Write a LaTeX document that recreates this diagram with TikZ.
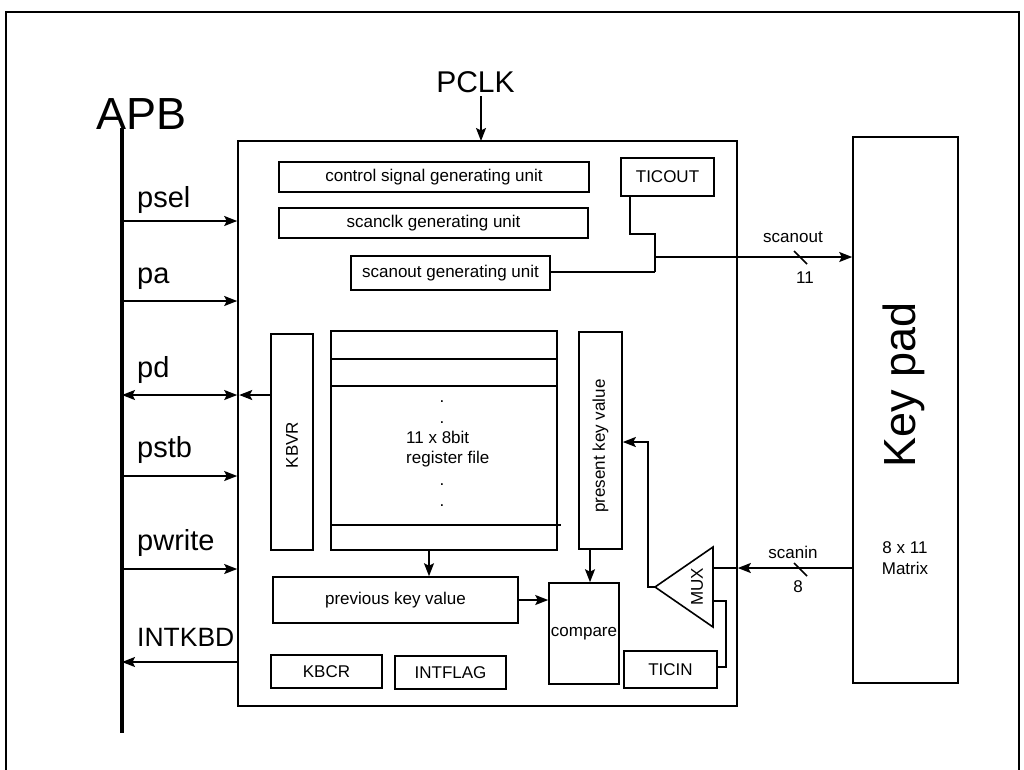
\documentclass[tikz,border=0pt]{standalone}
\usepackage{fontspec}
\setmainfont{Liberation Sans}
\usetikzlibrary{arrows.meta,calc}
\newcommand\fsz[1]{\fontsize{#1}{#1}\selectfont}
\begin{document}
\begin{tikzpicture}[x=1pt,y=-1pt,
  box/.style={draw, line width=1.6pt, inner sep=0pt},
  txt/.style={inner sep=0pt, font=\fsz{17}},
  sig/.style={inner sep=0pt, font=\fsz{29}, anchor=base west},
  wire/.style={line width=1.6pt},
  arr/.style={line width=1.6pt, -{Stealth[length=13pt,width=10pt,inset=2.5pt]}},
  darr/.style={line width=1.6pt, {Stealth[length=13pt,width=10pt,inset=2.5pt]}-{Stealth[length=13pt,width=10pt,inset=2.5pt]}}]
\useasboundingbox (0,0) rectangle (1024,769);
% outer frame
\draw[line width=2.4pt] (6,790) -- (6,12) -- (1019,12) -- (1019,790);

% APB bus
\node[inner sep=0pt, font=\fsz{45}, anchor=base west] (APB) at (96,129) {APB};
\coordinate (busT) at (122,128);
\coordinate (busB) at (122,733);
\draw[line width=4pt] (busT) -- (busB);

% main block
\node[box, minimum width=499pt, minimum height=565pt] (main) at (487.5,423.5) {};

% PCLK
\node[inner sep=0pt, font=\fsz{30}, anchor=base] (PCLK) at (475.5,92) {PCLK};
\coordinate (clkin) at (481,141);
\draw[arr] ($(PCLK.south -| clkin)+(0,4)$) -- (clkin);

% bus signals
\coordinate (bpsel) at (122,221);
\coordinate (bpa) at (122,301);
\coordinate (bpd) at (122,395);
\coordinate (bpstb) at (122,476);
\coordinate (bpwrite) at (122,569);
\coordinate (bint) at (122,662);
\node[sig] (Lpsel) at (137,207) {psel};
\node[sig] (Lpa) at (137,283) {pa};
\node[sig] (Lpd) at (137,377) {pd};
\node[sig] (Lpstb) at (137,457) {pstb};
\node[sig] (Lpwrite) at (137,550) {pwrite};
\node[sig, font=\fsz{26.5}] (Lint) at (137,646) {INTKBD};
\draw[arr] (bpsel) -- (bpsel -| main.west);
\draw[arr] (bpa) -- (bpa -| main.west);
\draw[darr] (bpd) -- (bpd -| main.west);
\draw[arr] (bpstb) -- (bpstb -| main.west);
\draw[arr] (bpwrite) -- (bpwrite -| main.west);
\draw[arr] (bint -| main.west) -- (bint);

% top units
\node[box, minimum width=310pt, minimum height=30pt] (ctrl) at (434,177) {};
\node[txt] (ctrlT) at (ctrl) {control signal generating unit};
\node[box, minimum width=309pt, minimum height=30pt] (sclk) at (433.5,223) {};
\node[txt] (sclkT) at (sclk) {scanclk generating unit};
\node[box, minimum width=199pt, minimum height=34pt] (sout) at (450.5,273) {};
\node[txt] (soutT) at (sout) {scanout generating unit};
\node[box, minimum width=93pt, minimum height=38pt] (ticout) at (667.5,177) {};
\node[txt] (ticoutT) at (ticout) {TICOUT};

% registers
\node[box, minimum width=42pt, minimum height=216pt] (kbvr) at (292,442) {};
\node[txt, rotate=90] (kbvrT) at (292,445) {KBVR};
\node[box, minimum width=226pt, minimum height=219pt] (reg) at (444,440.5) {};
\draw[wire] (reg.west |- 0,359) -- (reg.east |- 0,359);
\draw[wire] (reg.west |- 0,386) -- (reg.east |- 0,386);
\draw[wire] (reg.west |- 0,525) -- ($(reg.east |- 0,525)+(3,0)$);
\node[txt, anchor=base] (d1) at (442,402) {.};
\node[txt, anchor=base] (d2) at (442,423) {.};
\node[txt, anchor=base] (d3) at (442,485) {.};
\node[txt, anchor=base] (d4) at (442,506) {.};
\node[txt, anchor=base west] (regT1) at (406,443) {11 x 8bit};
\node[txt, anchor=base west] (regT2) at (406,463) {register file};
\node[box, minimum width=43pt, minimum height=217pt] (pres) at (600.5,440.5) {};
\node[txt, rotate=90] (presT) at (600.5,446) {present key value};

\node[box, minimum width=245pt, minimum height=46pt] (prev) at (395.5,600) {};
\node[txt] (prevT) at (prev) {previous key value};
\node[box, minimum width=70pt, minimum height=101pt] (cmp) at (584,633.5) {};
\node[txt] (cmpT) at (cmp) {compare};
\node[box, minimum width=111pt, minimum height=33pt] (kbcr) at (326.5,671.5) {};
\node[txt] (kbcrT) at (kbcr) {KBCR};
\node[box, minimum width=111pt, minimum height=33pt] (intf) at (450.5,672.5) {};
\node[txt] (intfT) at (intf) {INTFLAG};
\node[box, minimum width=93pt, minimum height=37pt] (ticin) at (670.5,669.5) {};
\node[txt] (ticinT) at (ticin) {TICIN};

% MUX
\coordinate (muxA) at (713,547);
\coordinate (muxB) at (713,627);
\coordinate (muxC) at (655,587);
\draw[wire, line join=miter] (muxA) -- (muxB) -- (muxC) -- cycle;
\node[txt, rotate=90] (muxT) at (697,587) {MUX};

% key pad
\node[box, minimum width=105pt, minimum height=546pt] (kp) at (905.5,410) {};
\node[inner sep=0pt, font=\fsz{45}, rotate=90] (kpT) at (904,385) {Key pad};
\node[txt] (kpM1) at (905,548) {8 x 11};
\node[txt] (kpM2) at (905,568) {Matrix};

% internal connectors
\draw[arr] (kbvr.west |- bpd) -- ($(bpd -| main.west)+(2,0)$);
\draw[arr] ([xshift=-15pt]reg.south) -- ([xshift=-15pt]reg.south |- prev.north);
\draw[arr] ([xshift=-10.5pt]pres.south) -- ([xshift=-10.5pt]pres.south |- cmp.north);
\draw[arr] (prev.east) -- (prev.east -| cmp.west);

% scanout path
\coordinate (sj) at (655,257);
\draw[wire] ([xshift=-37.5pt]ticout.south) |- (655,234) -- (655,272);
\draw[wire] (sout.east |- 0,272) -- (655,272);
\draw[arr] (sj) -- (sj -| kp.west);
\draw[wire] (794,251) -- (807,264);
\node[txt] (soL) at (793,237) {scanout};
\node[txt] (soN) at (805,278) {11};

% scanin path
\coordinate (si) at (853,568);
\draw[arr] (si) -- (si -| main.east);
\draw[wire] (si -| main.east) -- (si -| muxA);
\draw[wire] (794,563) -- (807,576);
\node[txt] (siL) at (793,552) {scanin};
\node[txt] (siN) at (798,587) {8};

% MUX to present key value
\draw[arr] (muxC) -- (648,587) -- (648,442) -- (pres.east |- 0,442);
% TICIN to MUX
\draw[wire] (ticin.east |- 0,667) -- (726,667) -- (726,601) -- (713,601);
\end{tikzpicture}
\end{document}
